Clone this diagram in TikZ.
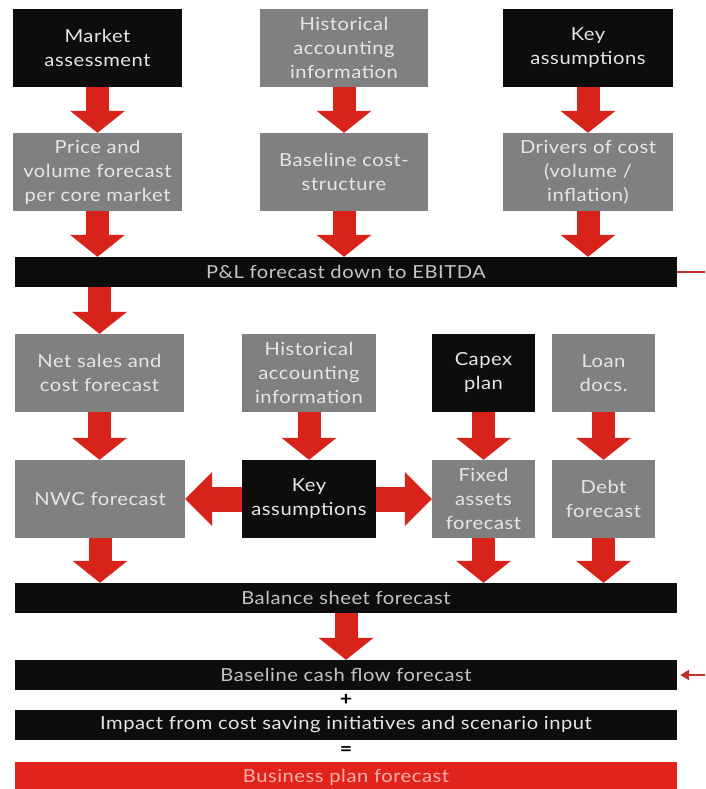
\documentclass[tikz,border=0pt]{standalone}
\usepackage{fontspec}
\setmainfont{Lato}[FakeStretch=1.12, LetterSpace=3]
\usetikzlibrary{arrows.meta}
\definecolor{boxblack}{HTML}{0D0D0D}
\definecolor{boxgray}{HTML}{808080}
\definecolor{arrred}{HTML}{D8231B}
\definecolor{txtc}{HTML}{E6E6E6}
\definecolor{bartxt}{HTML}{C4C4C4}
\definecolor{linkred}{HTML}{C0302C}
\definecolor{bpred}{HTML}{E2231C}
\definecolor{bptxt}{HTML}{F2B2AC}
\begin{document}
\begin{tikzpicture}[x=1pt,y=-1pt,
 box/.style={minimum height=78pt, inner sep=0pt, text=txtc, font=\fontsize{18}{24}\selectfont, align=center},
 blk/.style={box, fill=boxblack},
 gry/.style={box, fill=boxgray},
 bar/.style={fill=boxblack, minimum width=662pt, minimum height=30pt, inner sep=0pt, text=bartxt, font=\fontsize{18}{20}\selectfont},
 fat/.style={draw=arrred, line width=23pt, -{Triangle[width=55pt,length=22pt,line width=0pt]}},
 fath/.style={draw=arrred, line width=25pt, -{Triangle[width=54pt,length=27pt,line width=0pt]}},
 op/.style={font=\fontsize{19}{20}\selectfont\bfseries, text=black, inner sep=0pt},
 link/.style={draw=linkred, line width=2.5pt},
]
\path[use as bounding box, fill=white] (0,0) rectangle (705,789);
\clip (0,0) rectangle (705,789);

% row 1
\node[blk, minimum width=169pt] (ma) at (97.5,48) {Market\\assessment};
\node[gry, minimum width=168pt] (h1) at (344,48) {Historical\\accounting\\information};
\node[blk, minimum width=170pt] (ka1) at (588,48) {Key\\assumptions};
% row 2
\node[gry, minimum width=169pt] (pv) at (97.5,172) {Price and\\volume forecast\\per core market};
\node[gry, minimum width=168pt] (bc) at (344,172) {Baseline cost-\\structure};
\node[gry, minimum width=170pt] (dc) at (588,172) {Drivers of cost\\(volume /\\inflation)};
% P&L bar
\node[bar] (pl) at (346,272) {P\&L forecast down to EBITDA};
% row 3
\node[gry, minimum width=169pt] (ns) at (99.5,373) {Net sales and\\cost forecast};
\node[gry, minimum width=134pt] (h2) at (309,373) {Historical\\accounting\\information};
\node[blk, minimum width=103pt] (cx) at (483.5,373) {Capex\\plan};
\node[gry, minimum width=103pt] (ln) at (603.5,373) {Loan\\docs.};
% row 4
\node[gry, minimum width=170pt] (nwc) at (100,499) {NWC forecast};
\node[blk, minimum width=134pt] (ka2) at (309,499) {Key\\assumptions};
\node[gry, minimum width=103pt] (fa) at (483.5,499) {Fixed\\assets\\forecast};
\node[gry, minimum width=103pt] (db) at (603.5,499) {Debt\\forecast};
% bars
\node[bar] (bs) at (346,598) {Balance sheet forecast};
\node[bar] (cf) at (346,675) {Baseline cash flow forecast};
\node[op] (plus) at (346,700) {+};
\node[bar, text=txtc] (imp) at (346,725) {Impact from cost saving initiatives and scenario input};
\node[op] (eq) at (346,751) {=};
\node[bar, fill=bpred, text=bptxt] (bp) at (346,777) {Business plan forecast};

% block arrows
\draw[fat] (ma.south) -- (pv.north);
\draw[fat] (h1.south) -- (bc.north);
\draw[fat] (ka1.south) -- (dc.north);
\draw[fat] (pv.south) -- (pl.north -| pv.south);
\draw[fat] (bc.south) -- (pl.north -| bc.south);
\draw[fat] (dc.south) -- (pl.north -| dc.south);
\draw[fat] (pl.south -| ns.north) -- (ns.north);
\draw[fat] (ns.south) -- (nwc.north -| ns.south);
\draw[fat] (h2.south) -- (ka2.north);
\draw[fat] (cx.south) -- (fa.north);
\draw[fat] (ln.south) -- (db.north);
\draw[fath] (ka2.west) -- (nwc.east);
\draw[fath] (ka2.east) -- (fa.west);
\draw[fat] (nwc.south) -- (bs.north -| nwc.south);
\draw[fat] (fa.south) -- (bs.north -| fa.south);
\draw[fat] (db.south) -- (bs.north -| db.south);
\draw[fat] (bs.south) -- (cf.north);

% link on the right
\coordinate (e1) at (705,272);
\coordinate (e2) at (705,675);
\draw[link] (pl.east) -- (e1);
\draw[link, -{Triangle[length=9pt,width=10pt]}, shorten >=3pt] (e2) -- (cf.east);
\end{tikzpicture}
\end{document}
